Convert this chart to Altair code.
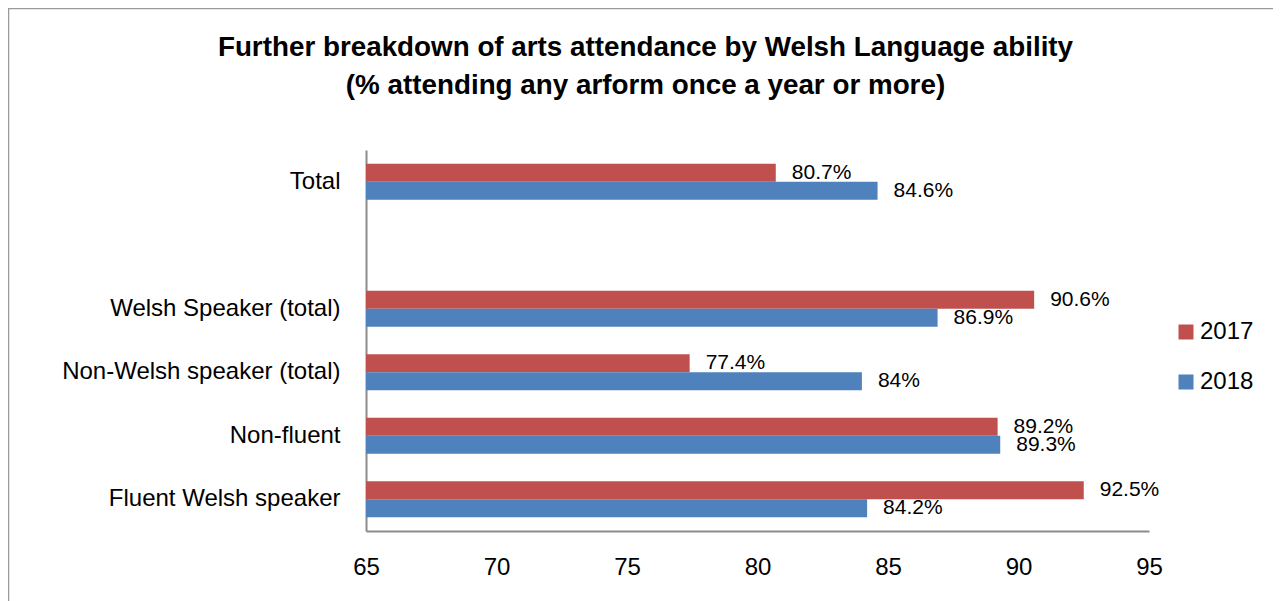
import altair as alt
import pandas as pd

categories = ["Total", " ", "Welsh Speaker (total)", "Non-Welsh speaker (total)",
              "Non-fluent", "Fluent Welsh speaker"]
bar_categories = ["Total", "Welsh Speaker (total)", "Non-Welsh speaker (total)",
                  "Non-fluent", "Fluent Welsh speaker"]
years = ["2017", "2018"]
values_2017 = [80.7, 90.6, 77.4, 89.2, 92.5]
values_2018 = [84.6, 86.9, 84.0, 89.3, 84.2]
labels_2017 = ["80.7%", "90.6%", "77.4%", "89.2%", "92.5%"]
labels_2018 = ["84.6%", "86.9%", "84%", "89.3%", "84.2%"]
x_ticks = [65, 70, 75, 80, 85, 90, 95]
colors = ["#C0504D", "#4F81BD"]

rows = []
for c, v, l in zip(bar_categories, values_2017, labels_2017):
    rows.append({"category": c, "year": "2017", "value": v, "label": l})
for c, v, l in zip(bar_categories, values_2018, labels_2018):
    rows.append({"category": c, "year": "2018", "value": v, "label": l})
df = pd.DataFrame(rows)

FONT = "Liberation Sans"

y_enc = alt.Y("category:N", sort=categories,
              scale=alt.Scale(domain=categories, paddingInner=0.434, paddingOuter=0.217),
              axis=alt.Axis(title=None, labelFontSize=24, labelColor="black", labelFont=FONT,
                            ticks=False, domainColor="#8c8c8c", domainWidth=2,
                            labelPadding=26, labelLimit=400))
yoff = alt.YOffset("year:N", sort=years, scale=alt.Scale(paddingInner=0, paddingOuter=0))
x_enc = alt.X("value:Q",
              scale=alt.Scale(domain=[65, 95], nice=False, zero=False),
              axis=alt.Axis(title=None, values=x_ticks, labelFontSize=24, labelColor="black",
                            labelFont=FONT, ticks=False, grid=False, domainColor="#8c8c8c",
                            domainWidth=2, labelPadding=24, labelFlush=False))

base = alt.Chart(df)

bars = base.mark_bar(clip=True).encode(
    y=y_enc,
    yOffset=yoff,
    x=x_enc,
    x2=alt.datum(65),
    color=alt.Color("year:N", sort=years,
                    scale=alt.Scale(domain=years, range=colors),
                    legend=alt.Legend(title=None, orient="none", legendX=808, legendY=170,
                                      symbolType="square", symbolSize=225, labelFontSize=24,
                                      labelFont=FONT, labelColor="black", rowPadding=26,
                                      labelOffset=2, padding=0, symbolStrokeWidth=0)),
)

texts = base.mark_text(align="left", baseline="middle", dx=16, fontSize=21,
                       font=FONT, color="black").encode(
    y=alt.Y("category:N", sort=categories),
    yOffset=yoff,
    x="value:Q",
    text="label:N",
)

frame_data = alt.Data(values=[{"k": 1}])
top_line = alt.Chart(frame_data).mark_rule(color="#9a9a9a", strokeWidth=1.5).encode(
    x=alt.value(-358), x2=alt.value(907), y=alt.value(-141.5))
left_line = alt.Chart(frame_data).mark_rule(color="#9a9a9a", strokeWidth=1.5).encode(
    x=alt.value(-357.5), y=alt.value(-142), y2=alt.value(460))

chart = alt.layer(bars, texts, top_line, left_line).properties(
    width=783,
    height=381,
    autosize="none",
    padding={"left": 358, "top": 142, "right": 124, "bottom": 70},
    title=alt.TitleParams(
        text=["Further breakdown of arts attendance by Welsh Language ability",
              "(% attending any arform once a year or more)"],
        fontSize=27.8, font=FONT, fontWeight="bold", color="black",
        anchor="middle", dx=-112, offset=-93, lineHeight=38),
).configure_view(stroke=None)

chart.save("out.html", embed_options={"renderer": "svg", "actions": False})
